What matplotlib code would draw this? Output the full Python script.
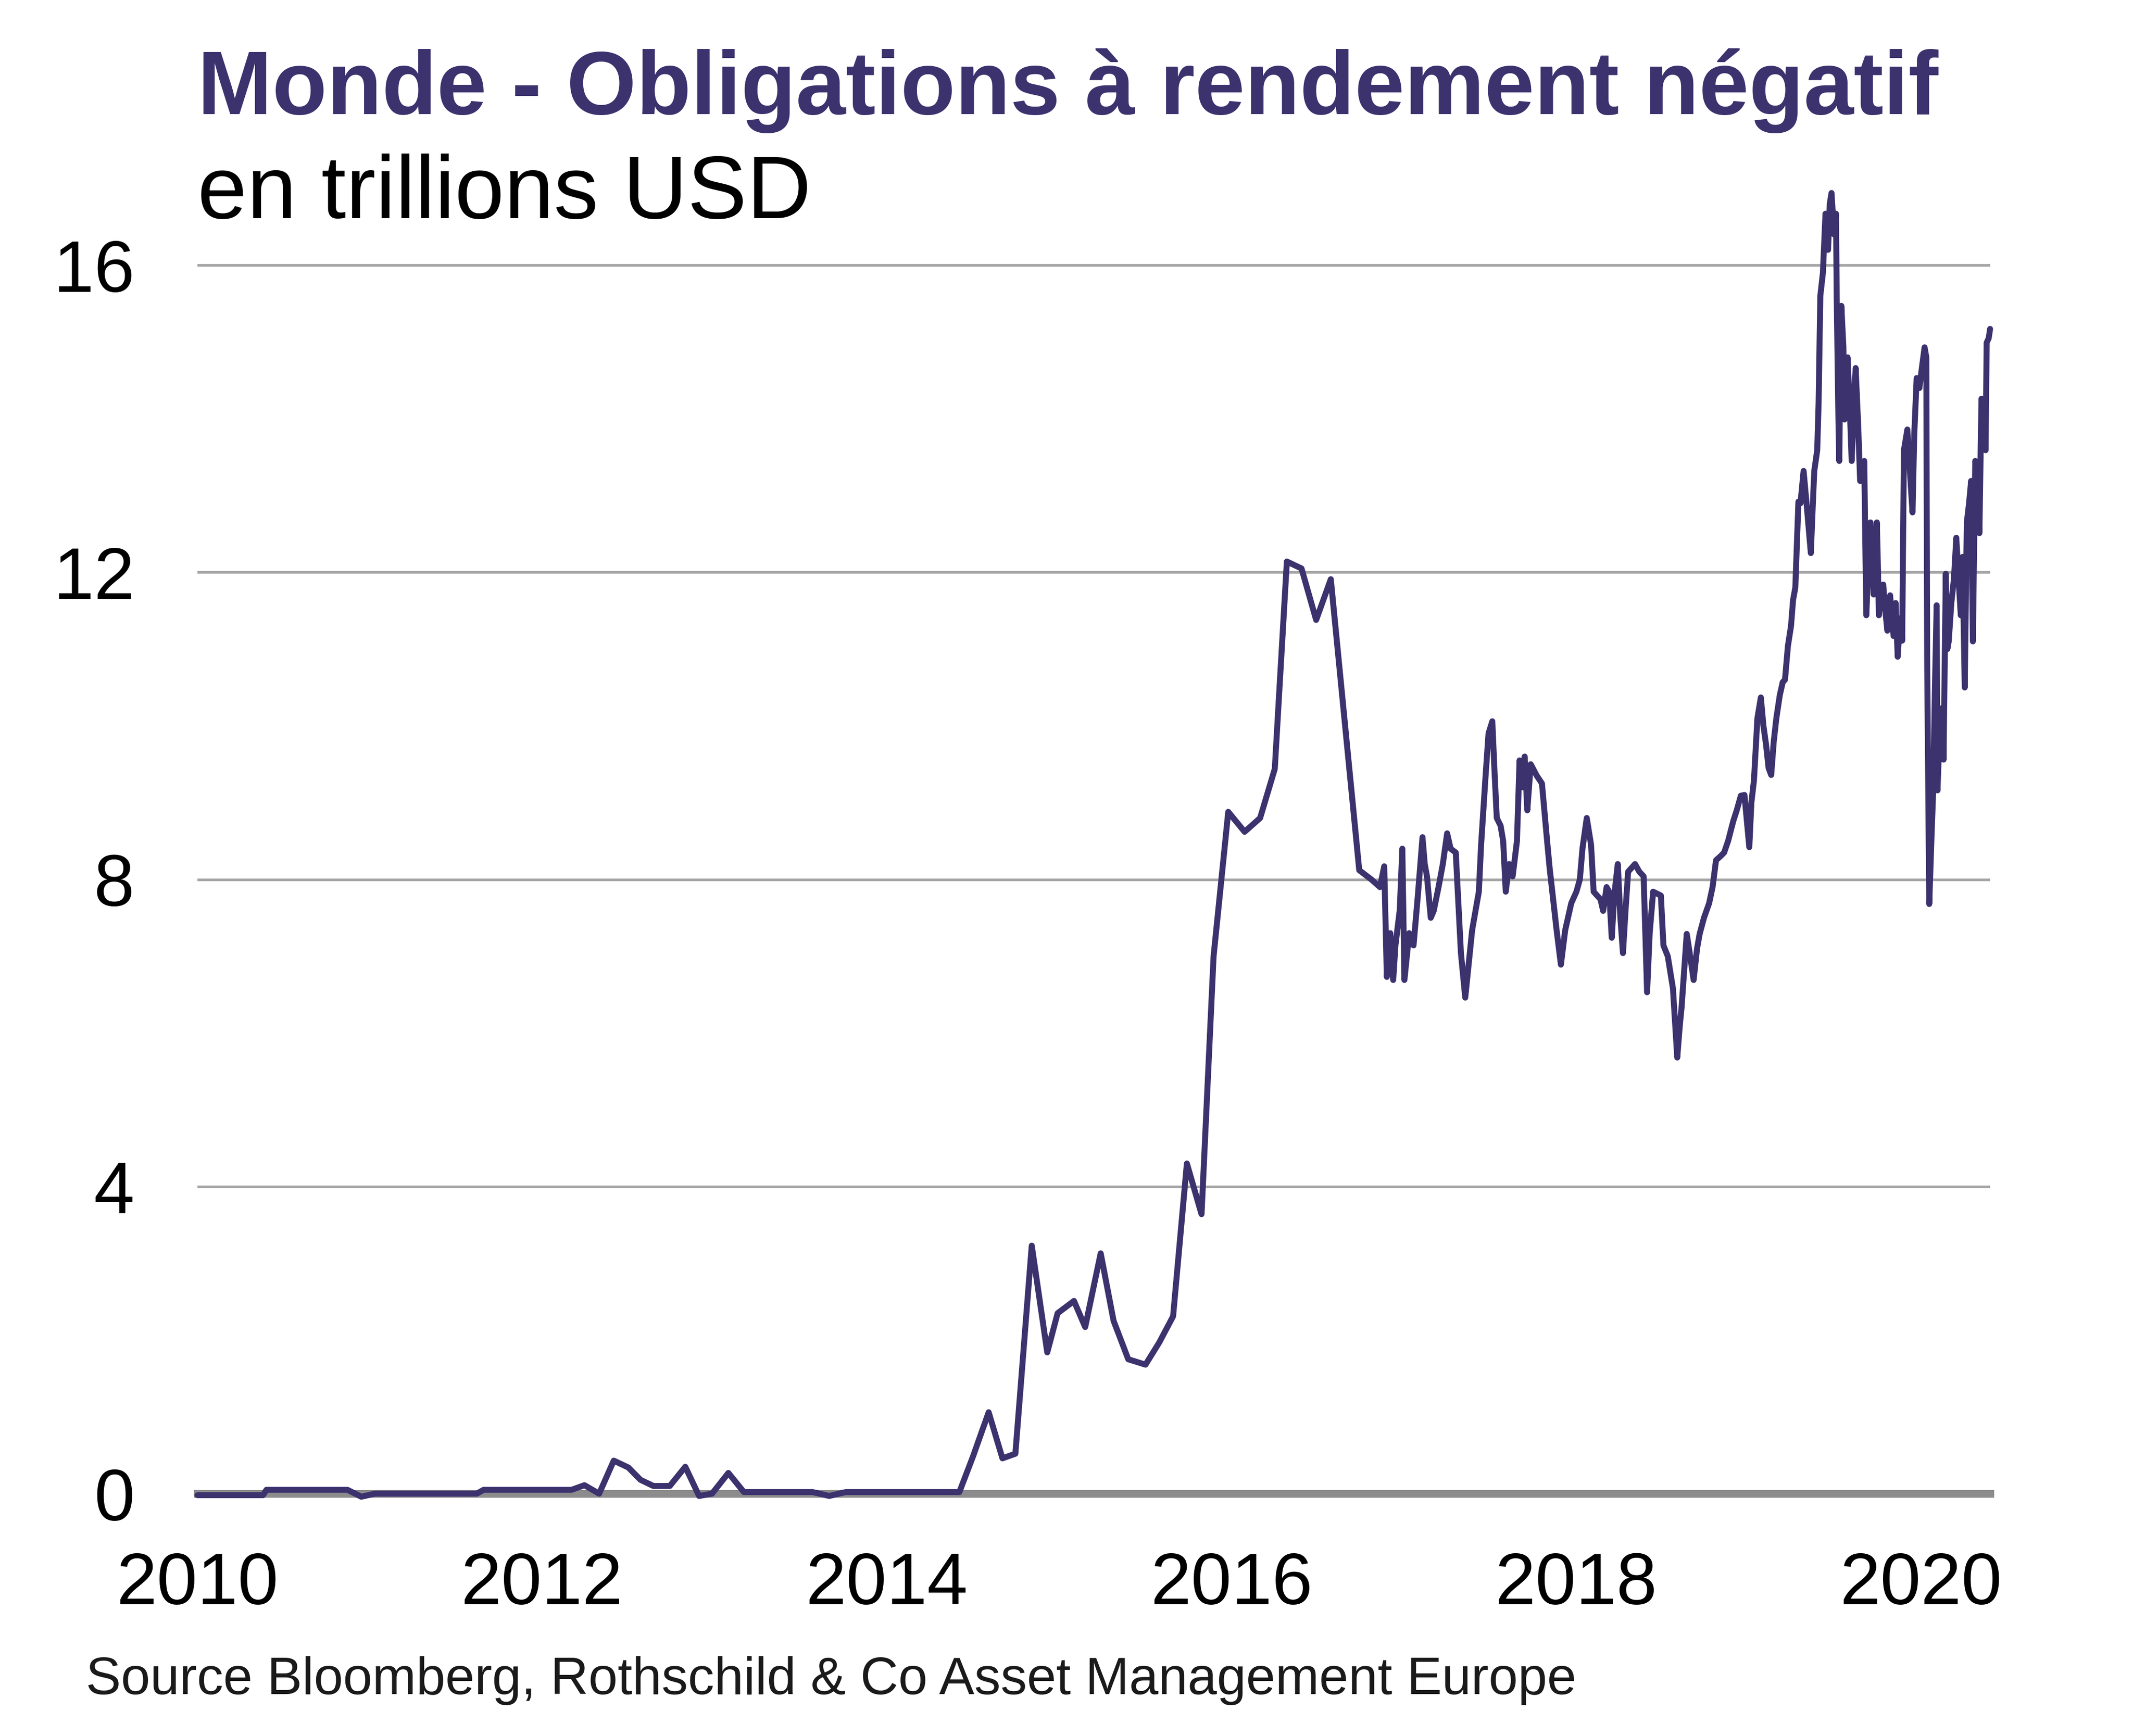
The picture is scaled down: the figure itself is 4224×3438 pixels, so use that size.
import matplotlib
matplotlib.use("Agg")
import matplotlib.pyplot as plt

# décimales d'année (lecture du graphique) et encours en trillions USD
dates = [
    2010.00, 2010.38, 2010.40, 2010.87, 2010.95, 2011.03, 2011.62, 2011.66, 2012.17,
    2012.245, 2012.33, 2012.415, 2012.50, 2012.57, 2012.645, 2012.74, 2012.83, 2012.91,
    2012.985, 2013.08, 2013.17, 2013.57, 2013.665, 2013.76, 2014.42, 2014.50, 2014.59,
    2014.67, 2014.745, 2014.84, 2014.93, 2014.99, 2015.085, 2015.15, 2015.24, 2015.315,
    2015.40, 2015.50, 2015.58, 2015.66, 2015.74, 2015.825, 2015.895, 2015.98, 2016.075,
    2016.165, 2016.25, 2016.32, 2016.405, 2016.49, 2016.575, 2016.74, 2016.81, 2016.86,
    2016.885, 2016.90, 2016.92, 2016.937, 2016.95, 2016.975, 2016.99, 2017.002, 2017.03,
    2017.055, 2017.08, 2017.107, 2017.12, 2017.133, 2017.155, 2017.172, 2017.20, 2017.225,
    2017.25, 2017.27, 2017.30, 2017.33, 2017.355, 2017.375, 2017.395, 2017.434, 2017.447,
    2017.473, 2017.49, 2017.512, 2017.525, 2017.538, 2017.56, 2017.575, 2017.59, 2017.61,
    2017.63, 2017.655, 2017.67, 2017.685, 2017.70, 2017.715, 2017.735, 2017.77, 2017.80,
    2017.83, 2017.845, 2017.87, 2017.885, 2017.91, 2017.935, 2017.97, 2018.00, 2018.02,
    2018.035, 2018.06, 2018.085, 2018.10, 2018.14, 2018.155, 2018.175, 2018.19, 2018.205,
    2018.22, 2018.24, 2018.255, 2018.27, 2018.285, 2018.30, 2018.34, 2018.365, 2018.39,
    2018.41, 2018.425, 2018.445, 2018.49, 2018.505, 2018.53, 2018.56, 2018.585, 2018.60,
    2018.61, 2018.64, 2018.66, 2018.68, 2018.70, 2018.715, 2018.74, 2018.77, 2018.79,
    2018.81, 2018.835, 2018.857, 2018.88, 2018.91, 2018.93, 2018.954, 2018.975, 2019.003,
    2019.015, 2019.03, 2019.05, 2019.07, 2019.085, 2019.10, 2019.115, 2019.13, 2019.145,
    2019.16, 2019.18, 2019.197, 2019.21, 2019.227, 2019.245, 2019.257, 2019.27, 2019.288,
    2019.30, 2019.318, 2019.335, 2019.36, 2019.37, 2019.38, 2019.397, 2019.405, 2019.415,
    2019.43, 2019.445, 2019.46, 2019.47, 2019.48, 2019.495, 2019.506, 2019.51, 2019.52,
    2019.525, 2019.53, 2019.537, 2019.549, 2019.555, 2019.565, 2019.573, 2019.585, 2019.597,
    2019.61, 2019.62, 2019.635, 2019.646, 2019.66, 2019.67, 2019.676, 2019.682, 2019.695,
    2019.706, 2019.715, 2019.725, 2019.735, 2019.743, 2019.75, 2019.755, 2019.768, 2019.78,
    2019.792, 2019.804, 2019.82, 2019.83, 2019.84, 2019.852, 2019.864, 2019.878, 2019.89,
    2019.90, 2019.92, 2019.935, 2019.95, 2019.96, 2019.974, 2019.99, 2020.004, 2020.02,
    2020.03, 2020.035, 2020.047, 2020.06, 2020.07, 2020.08, 2020.09, 2020.095, 2020.108,
    2020.12, 2020.13, 2020.143, 2020.152, 2020.16, 2020.175, 2020.19, 2020.204, 2020.215,
    2020.23, 2020.24, 2020.253, 2020.265, 2020.278, 2020.29, 2020.30, 2020.314, 2020.326,
    2020.338, 2020.35, 2020.362, 2020.374, 2020.38, 2020.392, 2020.40,
]
values = [
    -0.02, -0.02, 0.05, 0.05, -0.04, 0.00, 0.00, 0.05, 0.05,
    0.11, 0.00, 0.43, 0.34, 0.18, 0.10, 0.10, 0.35, -0.03,
    0.00, 0.27, 0.02, 0.02, -0.03, 0.02, 0.02, 0.49, 1.06,
    0.46, 0.52, 3.23, 1.84, 2.35, 2.51, 2.17, 3.13, 2.25,
    1.75, 1.68, 1.97, 2.31, 4.30, 3.64, 7.00, 8.88, 8.62,
    8.80, 9.44, 12.14, 12.05, 11.38, 11.91, 8.12, 8.00, 7.90,
    8.17, 6.73, 7.30, 6.69, 7.14, 7.60, 8.40, 6.69, 7.30,
    7.14, 7.79, 8.55, 8.20, 8.04, 7.50, 7.59, 7.90, 8.20,
    8.60, 8.40, 8.35, 7.04, 6.46, 6.90, 7.34, 7.84, 8.45,
    9.35, 9.90, 10.06, 9.40, 8.80, 8.70, 8.50, 7.84, 8.20,
    8.04, 8.50, 9.55, 9.20, 9.60, 8.90, 9.50, 9.35, 9.25,
    8.50, 8.14, 7.64, 7.34, 6.89, 7.34, 7.69, 7.84, 8.00,
    8.40, 8.80, 8.45, 7.84, 7.74, 7.59, 7.90, 7.84, 7.24,
    7.80, 8.20, 7.50, 7.04, 7.60, 8.10, 8.20, 8.10, 8.04,
    6.53, 7.30, 7.84, 7.79, 7.14, 7.00, 6.58, 5.68, 6.10,
    6.33, 7.29, 7.00, 6.69, 7.10, 7.29, 7.50, 7.69, 7.90,
    8.25, 8.30, 8.35, 8.50, 8.76, 8.90, 9.09, 9.10, 8.42,
    9.00, 9.29, 10.10, 10.37, 10.00, 9.76, 9.45, 9.36, 9.80,
    10.10, 10.40, 10.57, 10.60, 11.04, 11.30, 11.64, 11.80, 12.92,
    12.90, 13.32, 12.90, 12.25, 12.80, 13.32, 13.59, 14.20, 15.60,
    15.90, 16.67, 16.20, 16.80, 16.94, 16.40, 16.67, 15.60, 14.00,
    13.45, 14.50, 15.47, 14.93, 13.99, 14.60, 14.80, 14.20, 13.45,
    14.20, 14.66, 13.90, 13.19, 13.40, 13.45, 12.40, 11.44, 12.20,
    12.65, 12.20, 11.71, 12.30, 12.65, 12.00, 11.44, 11.80, 11.84,
    11.50, 11.24, 11.70, 11.40, 11.17, 11.60, 10.90, 11.40, 11.11,
    13.59, 13.86, 13.30, 12.78, 13.79, 14.53, 14.40, 14.66, 14.93,
    14.80, 10.84, 7.68, 8.55, 9.16, 10.50, 11.57, 9.16, 10.00,
    10.23, 9.56, 11.98, 11.00, 11.10, 11.60, 11.91, 12.45, 12.00,
    11.44, 12.20, 10.50, 12.65, 12.90, 13.19, 11.10, 13.45, 13.00,
    12.51, 14.26, 14.00, 13.59, 14.99, 15.05, 15.17,
]

year_ticks = [2010, 2012, 2014, 2016, 2018, 2020]
value_ticks = [0, 4, 8, 12, 16]

title = "Monde - Obligations à rendement négatif"
subtitle = "en trillions USD"
source = "Source Bloomberg, Rothschild & Co Asset Management Europe"

PURPLE = "#3B326E"

plt.rcParams["font.family"] = ["Liberation Sans", "DejaVu Sans"]

fig = plt.figure(figsize=(42.24, 34.38), dpi=100)
ax = fig.add_axes([0.0926, 0.1396, 0.8404, 0.7961])

ax.plot(dates, values, color=PURPLE, lw=8.5, solid_joinstyle="round",
        solid_capstyle="round", zorder=3, clip_on=False)

ax.set_xlim(2010, 2020.40)
ax.set_ylim(0, 18)
ax.set_xticks(year_ticks)
ax.set_yticks(value_ticks)
ax.tick_params(axis="both", length=0, labelsize=104, labelcolor="black")
ax.tick_params(axis="x", pad=82)
ax.tick_params(axis="y", pad=90)

for side in ["top", "right", "left"]:
    ax.spines[side].set_visible(False)
ax.spines["bottom"].set_color("#8C8C8C")
ax.spines["bottom"].set_linewidth(11)
ax.spines["bottom"].set_zorder(2.5)

ax.grid(axis="y", color="#A6A6A6", lw=3.8)
ax.set_axisbelow(True)

fig.text(0.0926, 0.9343, title, fontsize=128, fontweight="bold",
         color=PURPLE, ha="left", va="baseline")
fig.text(0.0926, 0.8744, subtitle, fontsize=127, color="black",
         ha="left", va="baseline")
fig.text(0.0402, 0.0241, source, fontsize=75, color="#1A1A1A",
         ha="left", va="baseline")

fig.savefig("out.png", dpi=100)
